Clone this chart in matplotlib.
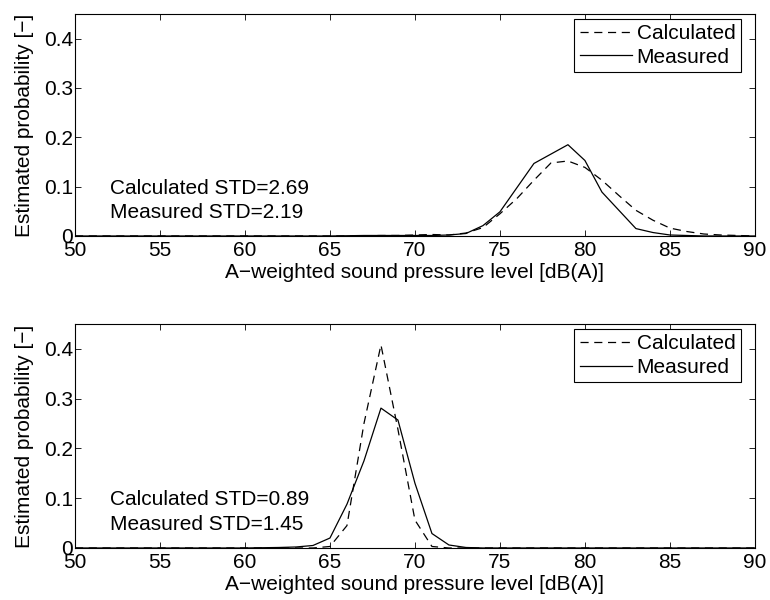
import matplotlib
matplotlib.use('Agg')
import matplotlib.pyplot as plt
import numpy as np

plt.rcParams['font.family'] = ['Liberation Sans', 'DejaVu Sans']
plt.rcParams['font.size'] = 15

levels = list(range(50, 91))

# top panel
calc_top = [0] * 17 + [0.0005, 0.001, 0.001, 0.002, 0.003, 0.002, 0.006, 0.017, 0.045, 0.076, 0.113,
                       0.148, 0.152, 0.139, 0.113, 0.082, 0.052, 0.032, 0.016, 0.009, 0.004, 0.002, 0.001, 0]
meas_top = [0] * 16 + [0.0005, 0.001, 0.001, 0.001, 0.001, 0.001, 0.002, 0.005, 0.021, 0.049, 0.098,
                       0.147, 0.166, 0.185, 0.153, 0.089, 0.052, 0.015, 0.007, 0.002, 0.001, 0, 0, 0, 0]
std_top = ('2.69', '2.19')

# bottom panel
calc_bot = [0] * 15 + [0.003, 0.045, 0.25, 0.408, 0.238, 0.056, 0.003] + [0] * 19
meas_bot = [0] * 11 + [0.0005, 0.001, 0.002, 0.005, 0.02, 0.088, 0.175, 0.281, 0.257, 0.13, 0.029,
                       0.006, 0.001] + [0] * 17
std_bot = ('0.89', '1.45')

yticks = [0, 0.1, 0.2, 0.3, 0.4]
ytick_labels = ['0', '0.1', '0.2', '0.3', '0.4']

fig = plt.figure(figsize=(7.7, 6), dpi=100)
ax1 = fig.add_axes([0.0974, 0.6067, 0.883, 0.37])
ax2 = fig.add_axes([0.0974, 0.0867, 0.883, 0.3733])

for ax, calc, meas, std in ((ax1, calc_top, meas_top, std_top), (ax2, calc_bot, meas_bot, std_bot)):
    ax.plot(levels, calc, color='black', lw=0.9, linestyle=(0, (6.5, 4.5)), label='Calculated')
    ax.plot(levels, meas, color='black', lw=0.9, label='Measured')
    ax.set_xlim(50, 90)
    ax.set_ylim(0, 0.45)
    ax.set_xticks(range(50, 91, 5))
    ax.set_yticks(yticks)
    ax.set_yticklabels(ytick_labels)
    ax.tick_params(direction='in', top=True, right=True, length=4.3, width=0.6, pad=1.5)
    ax.tick_params(axis='x', pad=3.5)
    for s in ax.spines.values():
        s.set_linewidth(0.8)
    ax.set_xlabel('A\u2212weighted sound pressure level [dB(A)]', labelpad=2.5)
    ax.set_ylabel('Estimated probability [\u2212]', labelpad=7)
    ax.text(52.06, 0.097, f'Calculated STD={std[0]}', va='center', ha='left')
    ax.text(52.06, 0.048, f'Measured STD={std[1]}', va='center', ha='left')
    leg = ax.legend(loc='upper right', bbox_to_anchor=(0.979, 0.9775), borderaxespad=0,
                    fancybox=False, framealpha=1, edgecolor='black',
                    handlelength=2.5, handletextpad=0.24, borderpad=0.25, labelspacing=0.22)
    leg.get_frame().set_linewidth(0.8)

fig.savefig('out.png', dpi=100)
